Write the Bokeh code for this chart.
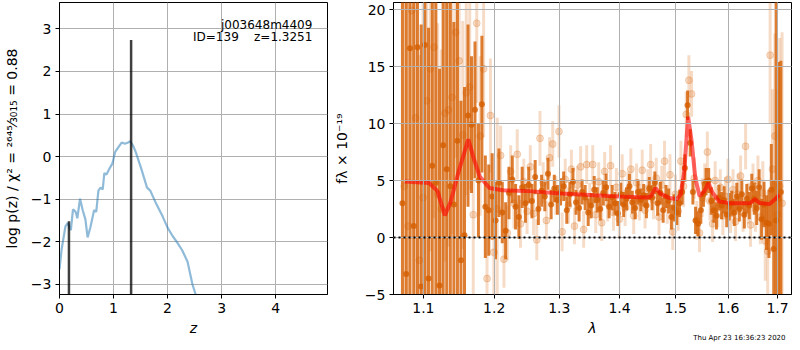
import numpy as np
from bokeh.plotting import figure
from bokeh.layouts import row
from bokeh.models import (Range1d, FixedTicker, CustomJSTickFormatter, Label,
                          ColumnDataSource, Span)
from bokeh.embed import file_html
from bokeh.resources import INLINE

FONT = "DejaVu Sans"

# ---------------- left panel: log p(z) ----------------
pz_z = [0.0, 0.04, 0.11, 0.15, 0.19, 0.21, 0.25, 0.30, 0.33, 0.38, 0.43, 0.48,
        0.52, 0.57, 0.64, 0.68, 0.72, 0.76, 0.80, 0.83, 0.87, 0.93, 0.98, 1.03,
        1.15, 1.21, 1.27, 1.31, 1.36, 1.41, 1.51, 1.62, 1.68, 1.79, 1.91, 2.00,
        2.09, 2.18, 2.27, 2.37, 2.46, 2.52, 2.60]
pz_logp = [-2.65, -2.17, -1.64, -1.56, -1.67, -1.73, -1.24, -1.30, -1.45, -0.99,
           -1.26, -1.48, -1.90, -1.67, -1.26, -1.30, -0.80, -0.73, -0.77, -0.39,
           -0.42, -0.27, -0.16, 0.11, 0.33, 0.30, 0.33, 0.36, 0.26, 0.11, -0.27,
           -0.73, -0.80, -1.11, -1.41, -1.67, -1.86, -2.02, -2.20, -2.47, -3.00,
           -3.24, -3.80]
peak_z = [0.175, 1.3251]
peak_logp = [-1.52, 2.74]
peak_base = [-10.0, -10.0]

left_ticks_x = [0, 1, 2, 3, 4]
left_ticks_y = [-3, -2, -1, 0, 1, 2, 3]

# ---------------- right panel: spectrum ----------------
wave_stack = [1.072, 1.077, 1.082, 1.087, 1.092, 1.097, 1.102, 1.107, 1.112, 1.117,
              1.122, 1.127, 1.132, 1.137, 1.142, 1.147, 1.152, 1.157, 1.162, 1.167,
              1.172, 1.177, 1.182, 1.187, 1.192, 1.197, 1.202, 1.207, 1.212, 1.217,
              1.222, 1.227, 1.232, 1.237, 1.242, 1.247, 1.252, 1.257, 1.262, 1.267,
              1.272, 1.277, 1.282, 1.287, 1.292, 1.297, 1.302, 1.307, 1.312, 1.317,
              1.322, 1.327, 1.332, 1.337, 1.342, 1.347, 1.352, 1.357, 1.362, 1.367,
              1.372, 1.377, 1.382, 1.387, 1.392, 1.397, 1.402, 1.407, 1.412, 1.417,
              1.422, 1.427, 1.432, 1.437, 1.442, 1.447, 1.452, 1.457, 1.462, 1.467,
              1.472, 1.477, 1.482, 1.487, 1.492, 1.497, 1.502, 1.507, 1.512, 1.517,
              1.522, 1.527, 1.532, 1.537, 1.542, 1.547, 1.552, 1.557, 1.562, 1.567,
              1.572, 1.577, 1.582, 1.587, 1.592, 1.597, 1.602, 1.607, 1.612, 1.617,
              1.622, 1.627, 1.632, 1.637, 1.642, 1.647, 1.652, 1.657, 1.662, 1.667,
              1.672, 1.677, 1.682, 1.687, 1.692, 1.697, 1.702, 1.707]
flux_stack = [3.0, -3.2, 16.6, 1.0, 16.7, -4.3, 16.9, -3.6, 6.3, 4.8,
              -4.2, 8.1, 6.0, 4.5, 2.9, 8.5, -2.0, 0.2, 10.7, 9.9,
              11.2, 5.0, 11.7, 2.7, 2.4, 3.6, 1.5, 4.8, 2.2, 0.6,
              3.9, 5.1, 2.7, 1.8, 4.4, 3.0, 4.6, 3.2, 5.3, 2.5,
              4.1, 3.6, 5.6, 2.9, 4.3, 3.3, 4.0, 4.5, 2.4, 3.8,
              4.9, 3.1, 2.6, 4.0, 3.5, 2.2, 2.8, 4.2, 3.3, 2.5,
              3.9, 4.4, 2.7, 3.5, 3.0, 2.1, 3.8, 2.9, 3.4, 4.5,
              3.1, 2.6, 4.0, 3.3, 3.7, 2.8, 4.3, 3.5, 4.8, 3.0,
              3.9, 2.4, 3.6, 3.2, 1.8, 2.6, 2.2, 3.0, 4.0, 6.1,
              11.6, 8.3, 4.0, 1.5, 1.2, 2.4, 3.8, 4.9, 5.0, 3.2,
              2.4, 1.9, 3.5, 2.8, 3.3, 2.0, 2.7, 3.0, 2.2, 3.6,
              2.5, 3.8, 2.0, 3.4, 2.8, 4.3, 3.4, 2.6, 4.4, 1.6,
              2.9, 1.3, 1.2, 4.2, -1.0, 1.5, 3.4, 4.0]
err_stack = [25, 24, 23, 25, 24, 23, 24, 22, 21, 20,
             19, 18, 17, 17, 16, 15, 14, 13, 8, 6,
             6, 5, 6, 4.5, 4, 3.8, 3.4, 3.0, 2.7, 2.5,
             2.3, 2.1, 2.0, 1.9, 1.8, 1.7, 1.6, 1.5, 1.5, 1.4,
             1.4, 1.3, 1.4, 1.3, 1.2, 1.3, 1.2, 1.3, 1.2, 1.1,
             1.2, 1.1, 1.2, 1.1, 1.1, 1.2, 1.1, 1.2, 1.1, 1.0,
             1.1, 1.2, 1.0, 1.1, 1.0, 1.1, 1.0, 1.1, 1.0, 1.1,
             1.0, 1.0, 1.1, 1.0, 1.0, 1.1, 1.0, 1.1, 1.0, 1.1,
             1.0, 1.1, 1.0, 1.1, 1.1, 1.2, 1.1, 1.2, 1.1, 1.2,
             1.3, 1.2, 1.1, 1.2, 1.1, 1.2, 1.1, 1.2, 1.1, 1.2,
             1.1, 1.2, 1.1, 1.2, 1.2, 1.1, 1.2, 1.1, 1.2, 1.2,
             1.1, 1.3, 1.2, 1.3, 1.2, 1.3, 1.4, 1.5, 1.6, 1.8,
             2.0, 2.4, 3.0, 4.0, 6.0, 25.0, 12.0, 11.5]

wave_beam = [1.0745, 1.0795, 1.0845, 1.0895, 1.0945, 1.0995, 1.1045, 1.1095, 1.1145, 1.1195,
             1.1245, 1.1295, 1.1345, 1.1395, 1.1445, 1.1495, 1.1545, 1.1595, 1.1645, 1.1695,
             1.1745, 1.1795, 1.1845, 1.1895, 1.1945, 1.1995, 1.2045, 1.2095, 1.2145, 1.2195,
             1.2245, 1.2295, 1.2345, 1.2395, 1.2445, 1.2495, 1.2545, 1.2595, 1.2645, 1.2695,
             1.2745, 1.2795, 1.2845, 1.2895, 1.2945, 1.2995, 1.3045, 1.3095, 1.3145, 1.3195,
             1.3245, 1.3295, 1.3345, 1.3395, 1.3445, 1.3495, 1.3545, 1.3595, 1.3645, 1.3695,
             1.3745, 1.3795, 1.3845, 1.3895, 1.3945, 1.3995, 1.4045, 1.4095, 1.4145, 1.4195,
             1.4245, 1.4295, 1.4345, 1.4395, 1.4445, 1.4495, 1.4545, 1.4595, 1.4645, 1.4695,
             1.4745, 1.4795, 1.4845, 1.4895, 1.4945, 1.4995, 1.5045, 1.5095, 1.5145, 1.5195,
             1.5245, 1.5295, 1.5345, 1.5395, 1.5445, 1.5495, 1.5545, 1.5595, 1.5645, 1.5695,
             1.5745, 1.5795, 1.5845, 1.5895, 1.5945, 1.5995, 1.6045, 1.6095, 1.6145, 1.6195,
             1.6245, 1.6295, 1.6345, 1.6395, 1.6445, 1.6495, 1.6545, 1.6595, 1.6645, 1.6695,
             1.6745, 1.6795, 1.6845, 1.6895, 1.6945, 1.6995, 1.7045, 1.7095]
flux_beam = [4.5, 1.0, 19.9, 10.5, -2.0, 3.5, 12.0, 14.8, 16.7, 3.8,
             2.5, 10.9, 11.2, 12.3, 18.0, 15.5, 9.0, 12.7, 13.2, 2.0,
             18.8, 8.9, 14.8, -3.6, 10.7, -1.3, 2.5, 7.2, -1.9, 0.4,
             5.8, 3.0, 7.3, 1.2, 4.9, 2.3, 6.2, 2.1, -0.2, 8.7,
             4.8, 1.5, 7.0, 8.2, 3.7, 9.3, 0.5, 5.1, 2.8, 6.0,
             1.0, 4.6, 6.2, 0.7, 6.4, 3.2, 6.4, 2.0, 4.9, 1.3,
             5.8, 3.0, 6.3, 2.2, 4.4, 1.6, 5.6, 2.6, 4.1, 6.0,
             1.9, 4.8, 3.1, 5.9, 2.4, 4.3, 6.4, 3.3, 5.2, 1.8,
             4.6, 6.7, 2.9, 5.5, 0.5, 3.8, 2.3, 6.7, 4.5, 10.8,
             13.8, 12.6, 5.2, 1.5, 0.4, 3.5, 4.8, 7.5, 3.2, 1.2,
             5.0, 2.6, 4.4, 1.9, 3.6, 5.1, 2.1, 4.2, 1.4, 3.8,
             5.4, 2.2, 8.0, 3.0, 1.1, 4.6, 2.5, 5.0, 1.8, 3.9,
             -0.3, -1.2, 16.0, 6.0, 8.9, 2.0, 4.5, 3.0]
err_beam = [22, 20, 20, 19, 18, 18, 17, 16, 15, 15,
            14, 13, 12, 12, 11, 10, 10, 9, 9, 8,
            7, 7, 6, 6, 5, 5, 8.0, 2.6, 2.5, 2.4,
            2.3, 2.2, 2.2, 2.1, 2.0, 2.0, 1.9, 1.9, 1.8, 2.4,
            1.8, 1.7, 1.8, 2.0, 1.7, 2.3, 1.7, 1.8, 1.6, 1.7,
            1.6, 1.7, 1.8, 1.6, 1.7, 1.6, 1.7, 1.6, 1.7, 1.6,
            1.7, 1.6, 1.8, 1.6, 1.7, 1.6, 1.7, 1.6, 1.7, 1.8,
            1.6, 1.7, 1.6, 1.8, 1.6, 1.7, 1.8, 1.7, 1.8, 1.6,
            1.7, 1.8, 1.7, 1.8, 1.6, 1.7, 1.7, 1.8, 1.8, 2.0,
            2.2, 2.0, 1.8, 1.7, 1.7, 1.7, 1.7, 1.8, 1.7, 1.6,
            1.7, 1.7, 1.6, 1.7, 1.7, 1.8, 1.7, 1.8, 1.7, 1.8,
            1.8, 1.7, 2.0, 1.8, 1.9, 1.9, 2.0, 2.2, 2.4, 2.8,
            3.5, 4.5, 6.0, 7.0, 9.0, 11.0, 13.0, 15.0]

model_wave = [1.0752, 1.1079, 1.1192, 1.1294, 1.1372, 1.1486, 1.1624, 1.1704, 1.1789,
              1.1931, 1.2123, 1.2518, 1.3029, 1.3562, 1.4002, 1.4458, 1.4545, 1.4633,
              1.4721, 1.4869, 1.5020, 1.5092, 1.5157, 1.5230, 1.5292, 1.5366, 1.5446,
              1.5539, 1.5614, 1.5695, 1.5822, 1.6046, 1.6435, 1.6534, 1.6634, 1.6835,
              1.6969, 1.7038]
model_flux = [4.92, 4.78, 4.07, 1.94, 3.08, 5.77, 8.61, 6.90, 5.34,
              4.35, 4.15, 4.07, 3.87, 3.70, 3.59, 3.50, 3.60, 4.35,
              3.84, 3.50, 3.36, 3.78, 5.77, 10.60, 8.60, 5.20, 3.64,
              4.07, 4.78, 3.93, 3.16, 3.00, 3.00, 3.36, 3.02, 2.93,
              3.44, 3.78]

right_ticks_x = [1.1, 1.2, 1.3, 1.4, 1.5, 1.6, 1.7]
right_ticks_y = [-5, 0, 5, 10, 15, 20]
right_xmin, right_xmax = 1.0603, 1.7294
right_ymin, right_ymax = -5, 20.62

G141 = "#d55e00"

minus_fmt = CustomJSTickFormatter(code="return tick < 0 ? '\\u2212' + (-tick) : '' + tick;")

FRAME_H = 292


def style(p, ylabel_standoff):
    p.outline_line_color = "black"
    p.outline_line_width = 1
    p.outline_line_alpha = 1
    p.background_fill_color = "white"
    p.border_fill_color = "white"
    for ax in (p.xaxis[0], p.yaxis[0]):
        ax.major_label_text_font = FONT
        ax.major_label_text_font_size = "14px"
        ax.major_label_text_color = "black"
        ax.axis_label_text_font = FONT
        ax.axis_label_text_font_size = "14px"
        ax.axis_label_text_color = "black"
        ax.major_tick_in = 0
        ax.major_tick_out = 4
        ax.major_tick_line_color = "black"
        ax.minor_tick_line_color = None
        ax.axis_line_color = "black"
        ax.major_label_standoff = 4
    p.xaxis[0].axis_label_text_font_style = "italic"
    p.yaxis[0].axis_label_text_font_style = "normal"
    p.xaxis[0].axis_label_standoff = 4
    p.yaxis[0].axis_label_standoff = ylabel_standoff
    p.grid.grid_line_color = "#b0b0b0"
    p.grid.grid_line_width = 1


# ---- left figure ----
p1 = figure(frame_width=268, frame_height=FRAME_H,
            min_border_left=55, min_border_right=3, min_border_top=2, min_border_bottom=42,
            x_range=Range1d(0, 4.96), y_range=Range1d(-3.24, 3.62),
            output_backend="svg", toolbar_location=None)
style(p1, 8)
p1.xaxis.ticker = FixedTicker(ticks=left_ticks_x)
p1.yaxis.ticker = FixedTicker(ticks=left_ticks_y)
p1.yaxis.formatter = minus_fmt
p1.xaxis.axis_label = "z"
p1.yaxis.axis_label = "log p(z) / \u03c7\u00b2 = \u00b2\u2076\u2074\u2075\u2044\u2083\u2080\u2081\u2085 = 0.88"

p1.line(pz_z, pz_logp, line_color="#1f77b4", line_alpha=0.5, line_width=2.2)
p1.segment(x0=peak_z, y0=peak_base, x1=peak_z, y1=peak_logp,
           line_color="black", line_alpha=0.75, line_width=2.5)

p1.add_layout(Label(x=4.68, y=3.10, text="j003648m4409", text_align="right",
                    text_baseline="alphabetic", text_font=FONT, text_font_size="12px",
                    text_color="black"))
p1.add_layout(Label(x=4.68, y=2.82, text="ID=139\u00a0\u00a0\u00a0\u00a0z=1.3251",
                    text_align="right", text_baseline="alphabetic", text_font=FONT,
                    text_font_size="12px", text_color="black"))

# ---- right figure ----
p2 = figure(frame_width=398, frame_height=FRAME_H, x_axis_type="log",
            min_border_left=58, min_border_right=2, min_border_top=2, min_border_bottom=42,
            x_range=Range1d(right_xmin, right_xmax), y_range=Range1d(right_ymin, right_ymax),
            output_backend="svg", toolbar_location=None)
style(p2, 12)
p2.xaxis.ticker = FixedTicker(ticks=right_ticks_x)
p2.yaxis.ticker = FixedTicker(ticks=right_ticks_y)
p2.xaxis.formatter = CustomJSTickFormatter(code="return tick.toFixed(1);")
p2.yaxis.formatter = minus_fmt
p2.xaxis.axis_label = "\u03bb"
p2.yaxis.axis_label = "f\u03bb \u00d7 10\u207b\u00b9\u2079"
p2.grid.level = "guide"

fb = np.array(flux_beam)
eb = np.array(err_beam)
src_b = ColumnDataSource(dict(w=wave_beam, f=flux_beam, lo=fb - eb, hi=fb + eb))
fs = np.array(flux_stack)
es = np.array(err_stack)
src_s = ColumnDataSource(dict(w=wave_stack, f=flux_stack, lo=fs - es, hi=fs + es))

p2.segment(x0="w", y0="lo", x1="w", y1="hi", source=src_b,
           line_color=G141, line_alpha=0.22, line_width=3)
p2.scatter(x="w", y="f", source=src_b, size=7, fill_color=G141, fill_alpha=0.22,
           line_color=G141, line_alpha=0.22, line_width=1)
p2.segment(x0="w", y0="lo", x1="w", y1="hi", source=src_s,
           line_color=G141, line_alpha=0.8, line_width=3)
p2.scatter(x="w", y="f", source=src_s, size=6, fill_color=G141, fill_alpha=0.8,
           line_color=None)
p2.line(model_wave, model_flux, line_color="red", line_alpha=0.6, line_width=4)
p2.add_layout(Span(location=0, dimension="width", line_color="black",
                   line_dash="2 3", line_width=2))

p2.add_layout(Label(x=392, y=9, x_units="screen", y_units="screen",
                    text="Thu Apr 23 16:36:23 2020", text_align="right",
                    text_baseline="alphabetic", text_font=FONT, text_font_size="7px",
                    text_color="black"), "below")

layout = row(p1, p2)
open("out.html", "w").write(file_html(layout, INLINE))
